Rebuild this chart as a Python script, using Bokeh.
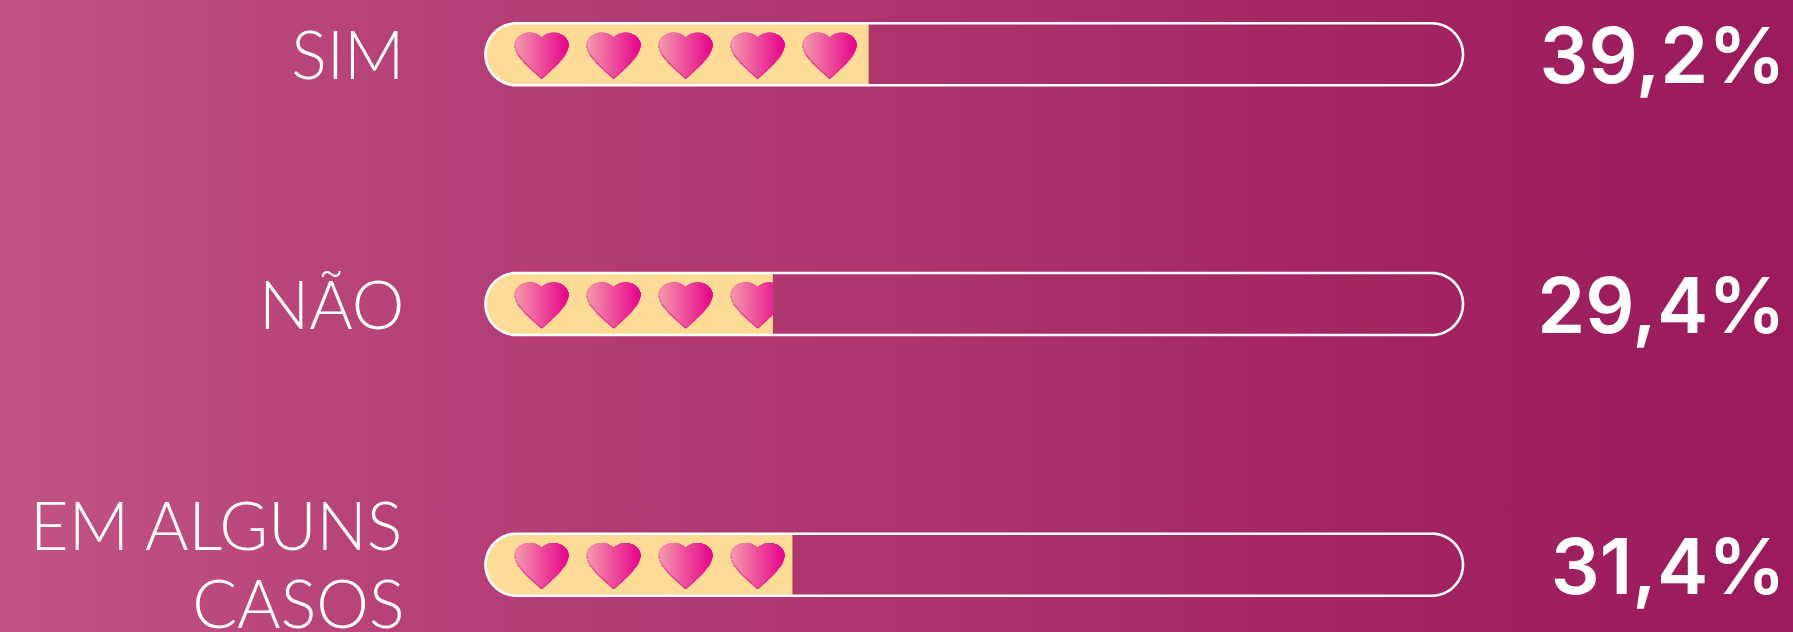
from bokeh.plotting import figure
from bokeh.models import Range1d
from bokeh.embed import file_html
from bokeh.resources import INLINE
from bokeh.core.properties import value
import numpy as np

# ---- data ----
categories = ["SIM", "NÃO", "EM ALGUNS CASOS"]
category_lines = [["SIM"], ["NÃO"], ["EM ALGUNS", "CASOS"]]
percent = [39.2, 29.4, 31.4]
percent_labels = ["39,2%", "29,4%", "31,4%"]

# ---- layout (pixels) ----
W, H = 1793, 632
X0, PX_PER_UNIT = 485.0, 9.775          # where 0 % sits, and pixels per percent
ROW_CY = [53.8, 303.5, 564.2]
R = 31.0
HEART_FIRST_CX, HEART_STEP = 541.0, 72.0
HEART_HW, HEART_TOP = 27.0, -21.7
HEART_COUNT = 5
LABEL_SIZE, VALUE_SIZE = 66.5, 77
TEXT_SHIFT = 0.39   # the baseline used by the text glyph sits this many em too low
def to_x(px):
    return (np.asarray(px, dtype=float) - X0) / PX_PER_UNIT

gradient = ("linear-gradient(90deg, rgb(193,84,133) 0px, rgb(181,63,118) 450px, "
            "rgb(173,52,109) 900px, rgb(163,37,98) 1350px, rgb(154,26,91) 1793px)")
p = figure(width=W, height=H, x_range=Range1d(to_x(0), to_x(W)), y_range=Range1d(H, 0),
           toolbar_location=None, output_backend="svg", min_border=0,
           tools="", outline_line_color=None, border_fill_color=None, background_fill_color=None,
           styles={"position": "fixed", "left": "0px", "top": "0px", "background": gradient})
p.axis.visible = False
p.grid.visible = False

def arc(cx, cy, r, a0, a1, n=40):
    t = np.radians(np.linspace(a0, a1, n))
    return cx + r * np.cos(t), cy + r * np.sin(t)

L_PX = X0 + 0.0
R_PX = X0 + 100 * PX_PER_UNIT

# filled parts
for cy, v in zip(ROW_CY, percent):
    ax, ay = arc(L_PX + R, cy, R, 90, 270)
    end = to_x(X0) + v
    p.patch(np.r_[to_x(ax), end, end], np.r_[ay, cy - R, cy + R], fill_color="#fedb97", line_color=None)

# hearts as one-pixel columns of a left-to-right gradient, cut at the end of the bar
BOT_U = [0, 0.31, 0.625, 0.875, 0.97, 1.0]
BOT_Y = [46.5, 39, 31, 22.7, 17, 12.7]
def heart_top(u):
    c, rx = 0.44, 0.56
    return 13.0 * (1 - np.sqrt(np.clip(1 - ((u - c) / rx) ** 2, 0, 1)))
def heart_bot(u):
    return np.interp(u, BOT_U, BOT_Y)

for cy, v in zip(ROW_CY, percent):
    end_px = X0 + v * PX_PER_UNIT
    for i in range(HEART_COUNT):
        cx = HEART_FIRST_CX + i * HEART_STEP
        if cx - HEART_HW >= end_px:
            continue
        px = np.arange(cx - HEART_HW, cx + HEART_HW, 1.0)
        px = px[px < end_px]
        mid = px + 0.5
        u = np.clip(np.abs(mid - cx) / HEART_HW, 0, 1)
        top = cy + HEART_TOP + heart_top(u)
        bot = cy + HEART_TOP + np.maximum(heart_bot(u), heart_top(u))
        t = (mid - (cx - HEART_HW)) / (2 * HEART_HW)
        shade = ["#%02x%02x%02x" % (int(247 - 17 * a), int(170 - 170 * a), int(176 - 36 * a)) for a in t]
        right = np.minimum(px + 1.3, end_px)
        p.quad(left=to_x(px), right=to_x(right), top=top, bottom=bot, fill_color="#e2128f", line_color=None)
        p.quad(left=to_x(px), right=to_x(right), top=top, bottom=np.maximum(bot - 1.6, top),
               fill_color=shade, line_color=None)

# pill outlines
for cy in ROW_CY:
    ax, ay = arc(L_PX + R, cy, R, 90, 270)
    bx, by = arc(R_PX - R, cy, R, -90, 90)
    p.patch(to_x(np.r_[ax, bx]), np.r_[ay, by], fill_color=None, line_color="white", line_width=2.6)

# labels
for cy, lines in zip(ROW_CY, category_lines):
    for j, line in enumerate(lines):
        base = cy + 25 if len(lines) == 1 else cy - 15 + j * 78
        p.text(x=[to_x(404)], y=[base - TEXT_SHIFT * LABEL_SIZE], text=[line], text_align="right",
               text_baseline="alphabetic", text_color="white", text_font=value("Lato Light"),
               text_font_size=f"{LABEL_SIZE}px")
for cy, lab in zip(ROW_CY, percent_labels):
    p.text(x=[to_x(1785)], y=[cy + 31 - TEXT_SHIFT * VALUE_SIZE], text=[lab], text_align="right",
           text_baseline="alphabetic", text_color="white", text_font=value("Inter SemiBold"),
           text_font_size=f"{VALUE_SIZE}px")

open("out.html", "w").write(file_html(p, INLINE))
